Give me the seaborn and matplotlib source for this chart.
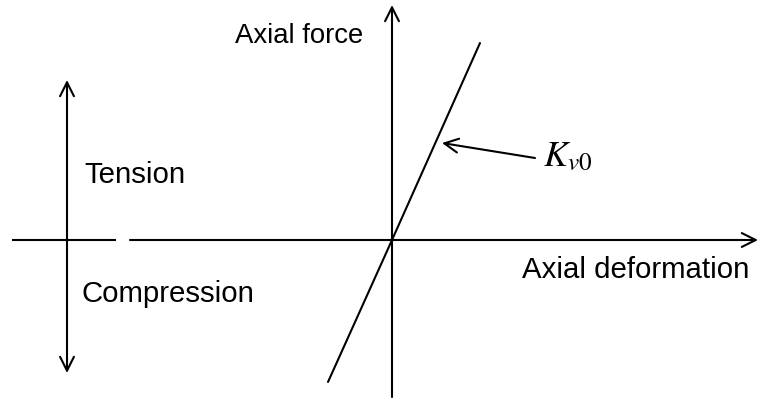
import matplotlib
matplotlib.use("Agg")
import matplotlib.pyplot as plt
import seaborn as sns
import pandas as pd

# Initial stiffness line of the axial spring (deformation, force), origin at axis crossing
deformation = [-64, 0, 88]
force = [-142, 0, 197]

axis_labels = ["Axial deformation", "Axial force"]
zone_labels = ["Tension", "Compression"]
stiffness_label = r"$K_{v0}$"

sns.set_style("white")
plt.rcParams["font.family"] = ["Liberation Sans", "DejaVu Sans"]
plt.rcParams["mathtext.fontset"] = "stix"
plt.rcParams["text.color"] = "black"

fig = plt.figure(figsize=(7.6, 4.0), dpi=100)
ax = fig.add_axes([0, 0, 1, 1])
ax.set_xlim(-392, 368)
ax.set_ylim(-160, 240)
ax.axis("off")

lw = 1.5
head = dict(arrowstyle="->,head_length=1.0,head_width=0.5", color="black", lw=lw,
            shrinkA=0, shrinkB=0)

# stiffness line
df = pd.DataFrame({"deformation": deformation, "force": force})
sns.lineplot(data=df, x="deformation", y="force", ax=ax, color="black", lw=lw,
             sort=False, estimator=None)

# horizontal axis (broken near the left) and vertical axis
ax.plot([-380, -276], [0, 0], color="black", lw=lw, solid_capstyle="butt")
ax.annotate("", xy=(366, 0), xytext=(-262, 0), arrowprops=head)
ax.annotate("", xy=(0, 235), xytext=(0, -157), arrowprops=head)

# tension / compression double arrow
dbl = dict(head)
dbl["arrowstyle"] = "<->,head_length=1.0,head_width=0.5"
ax.annotate("", xy=(-325, -133), xytext=(-325, 160), arrowprops=dbl)

# pointer to the stiffness line
ax.annotate("", xy=(50, 97), xytext=(143, 82), arrowprops=head)

fs = 21.2
ax.text(-157, 197, axis_labels[1], fontsize=19.8, va="baseline", ha="left")
ax.text(130, -38, axis_labels[0], fontsize=fs, va="baseline", ha="left")
ax.text(-308, 57, zone_labels[0], fontsize=fs, va="baseline", ha="left")
ax.text(-310, -62, zone_labels[1], fontsize=fs, va="baseline", ha="left")
ax.text(151, 83, stiffness_label, fontsize=26, va="center", ha="left")

fig.savefig("out.png", dpi=100)
